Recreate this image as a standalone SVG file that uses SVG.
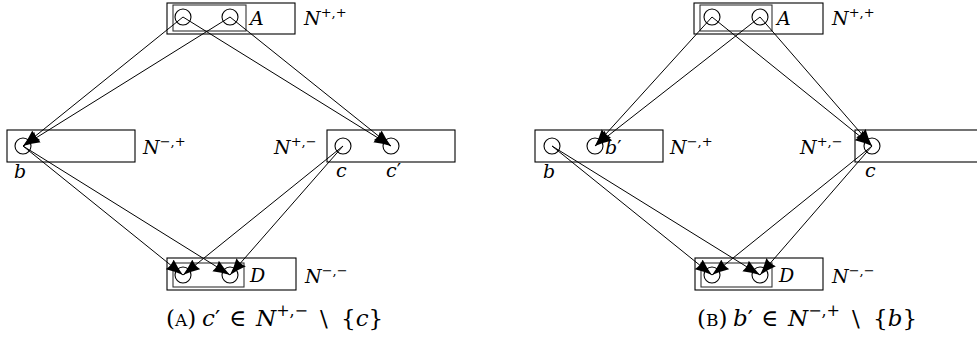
<svg xmlns="http://www.w3.org/2000/svg" width="977" height="343" viewBox="0 0 977 343">
<style>
.box{fill:none;stroke:#000;stroke-width:1.1}
.inner{fill:none;stroke:#333;stroke-width:1.1}
.pt{fill:none;stroke:#000;stroke-width:1.1}
.edge{fill:none;stroke:#000;stroke-width:1;marker-end:url(#ah)}
.txt{font-family:"DejaVu Serif",serif}
.lbl{font-size:19px}
.it{font-style:italic}
.sup{font-size:13px}
.cap{font-size:23px}
.sc{font-size:17px}
.csup{font-size:16px}
</style>
<defs>
<marker id="ah" markerUnits="userSpaceOnUse" markerWidth="18" markerHeight="14" viewBox="0 0 18 14" refX="17" refY="7" orient="auto">
<path d="M0,0.8 Q8.5,4.8 17,7 Q8.5,9.2 0,13.2 Q2.2,7 0,0.8 Z" fill="#000"/>
</marker>
</defs>
<g class="txt" fill="#000">
<!-- Panel A -->
<g id="A-top">
<rect class="box" x="167" y="3" width="128" height="31"/>
<rect class="inner" x="173" y="5" width="73" height="26"/>
<circle class="pt" cx="183" cy="17" r="8"/>
<circle class="pt" cx="230" cy="17" r="8"/>
<text class="lbl it" x="250" y="25">A</text>
<text class="lbl" x="304" y="25"><tspan class="it">N</tspan><tspan class="sup" dy="-8">+,+</tspan></text>
</g>
<g id="A-b">
<rect class="box" x="7" y="130" width="128" height="32"/>
<circle class="pt" cx="23" cy="146" r="8"/>
<text class="lbl it" x="14" y="178">b</text>
<text class="lbl" x="143" y="154"><tspan class="it">N</tspan><tspan class="sup" dy="-8">−,+</tspan></text>
</g>
<g id="A-c">
<rect class="box" x="327" y="130" width="128" height="32"/>
<circle class="pt" cx="343" cy="146" r="8"/>
<circle class="pt" cx="391" cy="146" r="8"/>
<text class="lbl it" x="336" y="177">c</text>
<text class="lbl" x="386" y="177"><tspan class="it">c</tspan>′</text>
<text class="lbl" x="274" y="154"><tspan class="it">N</tspan><tspan class="sup" dy="-8">+,−</tspan></text>
</g>
<g id="A-bottom">
<rect class="box" x="167" y="258" width="129" height="32"/>
<rect class="inner" x="173" y="263" width="71" height="24"/>
<circle class="pt" cx="183" cy="275" r="8"/>
<circle class="pt" cx="230" cy="275" r="8"/>
<text class="lbl it" x="250" y="282">D</text>
<text class="lbl" x="305" y="283"><tspan class="it">N</tspan><tspan class="sup" dy="-8">−,−</tspan></text>
</g>
<g id="A-caption">
<text class="cap" x="166" y="326">(<tspan class="sc">A</tspan>)</text>
<text class="cap" x="202" y="326"><tspan class="it">c</tspan>′</text>
<text class="cap" x="229" y="326">∈</text>
<text class="cap" x="256" y="326"><tspan class="it">N</tspan><tspan class="csup" dy="-10">+,−</tspan></text>
<text class="cap" x="320" y="326">\</text>
<text class="cap" x="341" y="326">{<tspan class="it">c</tspan>}</text>
</g>

<!-- Panel B -->
<g id="B-top">
<rect class="box" x="694" y="3" width="129" height="31"/>
<rect class="inner" x="700" y="5" width="72" height="26"/>
<circle class="pt" cx="712" cy="17" r="8"/>
<circle class="pt" cx="760" cy="17" r="8"/>
<text class="lbl it" x="777" y="25">A</text>
<text class="lbl" x="832" y="25"><tspan class="it">N</tspan><tspan class="sup" dy="-8">+,+</tspan></text>
</g>
<g id="B-b">
<rect class="box" x="535" y="130" width="128" height="32"/>
<circle class="pt" cx="552" cy="146" r="8"/>
<circle class="pt" cx="595" cy="146" r="8"/>
<text class="lbl it" x="543" y="178">b</text>
<text class="lbl" x="605" y="154"><tspan class="it">b</tspan>′</text>
<text class="lbl" x="670" y="154"><tspan class="it">N</tspan><tspan class="sup" dy="-8">−,+</tspan></text>
</g>
<g id="B-c">
<rect class="box" x="855" y="130" width="130" height="32"/>
<circle class="pt" cx="872" cy="146" r="8"/>
<text class="lbl it" x="865" y="177">c</text>
<text class="lbl" x="800" y="154"><tspan class="it">N</tspan><tspan class="sup" dy="-8">+,−</tspan></text>
</g>
<g id="B-bottom">
<rect class="box" x="695" y="258" width="128" height="32"/>
<rect class="inner" x="701" y="263" width="71" height="24"/>
<circle class="pt" cx="712" cy="275" r="8"/>
<circle class="pt" cx="760" cy="275" r="8"/>
<text class="lbl it" x="779" y="282">D</text>
<text class="lbl" x="832" y="283"><tspan class="it">N</tspan><tspan class="sup" dy="-8">−,−</tspan></text>
</g>
<g id="B-caption">
<text class="cap" x="697" y="326">(<tspan class="sc">B</tspan>)</text>
<text class="cap" x="733" y="326"><tspan class="it">b</tspan>′</text>
<text class="cap" x="761" y="326">∈</text>
<text class="cap" x="788" y="326"><tspan class="it">N</tspan><tspan class="csup" dy="-10">−,+</tspan></text>
<text class="cap" x="852" y="326">\</text>
<text class="cap" x="873" y="326">{<tspan class="it">b</tspan>}</text>
</g>
</g>
<g id="connectors">
<line class="edge" x1="183" y1="17" x2="23" y2="146"/>
<line class="edge" x1="230" y1="17" x2="23" y2="146"/>
<line class="edge" x1="183" y1="17" x2="391" y2="146"/>
<line class="edge" x1="230" y1="17" x2="391" y2="146"/>
<line class="edge" x1="23" y1="146" x2="183" y2="275"/>
<line class="edge" x1="23" y1="146" x2="230" y2="275"/>
<line class="edge" x1="343" y1="146" x2="183" y2="275"/>
<line class="edge" x1="343" y1="146" x2="230" y2="275"/>

<line class="edge" x1="712" y1="17" x2="595" y2="146"/>
<line class="edge" x1="760" y1="17" x2="595" y2="146"/>
<line class="edge" x1="712" y1="17" x2="872" y2="146"/>
<line class="edge" x1="760" y1="17" x2="872" y2="146"/>
<line class="edge" x1="552" y1="146" x2="712" y2="275"/>
<line class="edge" x1="552" y1="146" x2="760" y2="275"/>
<line class="edge" x1="872" y1="146" x2="712" y2="275"/>
<line class="edge" x1="872" y1="146" x2="760" y2="275"/>
</g>
</svg>
